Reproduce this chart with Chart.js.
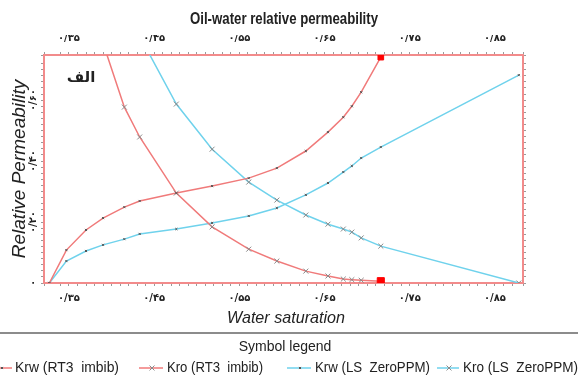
<!DOCTYPE html>
<html>
<head>
<meta charset="utf-8">
<script src="https://cdn.jsdelivr.net/npm/chart.js@4.4.1/dist/chart.umd.min.js"></script>
<style>
  html, body { margin: 0; padding: 0; background: #fff; }
  canvas { display: block; }
</style>
</head>
<body>
<canvas id="kr" width="578" height="381"></canvas>
<script>
// water saturation steps (RT3 stops at 0.716, LS has one more end point)
const waterSat = [0.327, 0.347, 0.370, 0.390, 0.415, 0.433, 0.476, 0.518, 0.561, 0.594, 0.628, 0.654, 0.672, 0.682, 0.693, 0.716, 0.878];

// relative permeabilities
const krwRT3 = [0, 0.108, 0.174, 0.213, 0.249, 0.269, 0.295, 0.318, 0.344, 0.377, 0.433, 0.495, 0.544, 0.580, 0.626, 0.741];
const kroRT3 = [1.0, 0.95, 0.87, 0.787, 0.577, 0.479, 0.295, 0.184, 0.111, 0.072, 0.039, 0.023, 0.013, 0.011, 0.009, 0.006];
const krwLS = [0, 0.072, 0.105, 0.125, 0.144, 0.161, 0.177, 0.197, 0.220, 0.246, 0.289, 0.328, 0.364, 0.384, 0.410, 0.446, 0.682];
const kroLS = [1.0, 0.99, 0.96, 0.92, 0.87, 0.810, 0.587, 0.439, 0.331, 0.272, 0.223, 0.193, 0.177, 0.167, 0.148, 0.121, 0.0];

const seriesNames = ['Krw (RT3  imbib)', 'Kro (RT3  imbib)', 'Krw (LS  ZeroPPM)', 'Kro (LS  ZeroPPM)'];

// tick labels (Persian digits)
const xTickValues = [0.35, 0.45, 0.55, 0.65, 0.75, 0.85];
const xTickLabels = ['۰/۳۵', '۰/۴۵', '۰/۵۵', '۰/۶۵', '۰/۷۵', '۰/۸۵'];
const yTickValues = [0, 0.2, 0.4, 0.6];
const yTickLabels = ['۰', '۰/۲۰', '۰/۴۰', '۰/۶۰'];

const RED = '#f07a7a';
const CYAN = '#6fd2ec';
const MARK = '#8a8a8a';

function pts(vals) {
    return vals.map((v, i) => ({ x: waterSat[i], y: v }));
}

function lineSet(label, vals, color, isKro, endSquare) {
    const last = vals.length - 1;
    return {
        label: label,
        data: pts(vals),
        borderColor: color,
        borderWidth: 1.5,
        tension: 0,
        pointStyle: vals.map((v, i) => (endSquare && i === last) ? 'rect' : 'crossRot'),
        pointRadius: vals.map((v, i) => (endSquare && i === last) ? (isKro ? 5 : 4) : (isKro ? 3.5 : 1.5)),
        pointBorderColor: vals.map((v, i) => (endSquare && i === last) ? '#ff0000' : (isKro ? MARK : '#555')),
        pointBackgroundColor: vals.map((v, i) => (endSquare && i === last) ? '#ff0000' : 'transparent'),
        pointBorderWidth: 1,
        _isKro: isKro
    };
}

function labelFor(values, labels) {
    return function(v) {
        const i = values.findIndex(t => Math.abs(t - v) < 1e-6);
        return i < 0 ? '' : labels[i];
    };
}

const frame = { display: true, color: '#f28b8b', width: 2 };
const tickMarks = { drawOnChartArea: false, drawTicks: true, tickLength: 3, tickColor: '#9a9a9a', color: '#9a9a9a' };
const tickFont = { family: 'DejaVu Sans', size: 10, weight: 'bold' };

const X_MIN = 0.3207, X_MAX = 0.8829;
const Y_MIN = 0, Y_MAX = 0.748;

// titles, "alef" label and the symbol legend
const decor = {
    id: 'decor',
    afterDraw(chart) {
        const ctx = chart.ctx;
        ctx.save();
        ctx.fillStyle = '#222';
        ctx.textAlign = 'center';
        ctx.textBaseline = 'middle';

        ctx.font = 'bold 16px "Liberation Sans Narrow", "Liberation Sans", sans-serif';
        ctx.fillText('Oil-water relative permeability', 284, 20, 188);

        ctx.font = 'italic 17px "Liberation Sans", sans-serif';
        ctx.fillText('Water saturation', 286, 318, 118);

        ctx.save();
        ctx.translate(20, 169);
        ctx.rotate(-Math.PI / 2);
        ctx.font = 'italic 19px "Liberation Sans", sans-serif';
        ctx.fillText('Relative Permeability', 0, 0, 190);
        ctx.restore();

        ctx.font = 'bold 15px "DejaVu Sans", sans-serif';
        ctx.fillText('الف', 81, 78);

        // legend
        ctx.strokeStyle = '#8c8c8c';
        ctx.lineWidth = 2;
        ctx.beginPath();
        ctx.moveTo(0, 333);
        ctx.lineTo(578, 333);
        ctx.stroke();

        ctx.font = '14px "Liberation Sans", sans-serif';
        ctx.fillText('Symbol legend', 285, 347);

        const slots = [[-10, 12, 15, 104], [139, 163, 167, 96], [287, 311, 315, 115], [437, 459, 463, 115]];
        const ly = 368;
        chart.data.datasets.forEach((ds, i) => {
            const s = slots[i];
            ctx.strokeStyle = ds.borderColor;
            ctx.lineWidth = 1.5;
            ctx.beginPath();
            ctx.moveTo(s[0], ly);
            ctx.lineTo(s[1], ly);
            ctx.stroke();
            ctx.strokeStyle = ds._isKro ? MARK : '#555';
            ctx.lineWidth = 1;
            Chart.helpers.drawPoint(ctx, { pointStyle: 'crossRot', rotation: 0, radius: ds._isKro ? 3.5 : 1.5, borderWidth: 1 }, (s[0] + s[1]) / 2 + 1, ly);
            ctx.fillStyle = '#222';
            ctx.textAlign = 'left';
            ctx.fillText(ds.label, s[2], ly, s[3]);
        });
        ctx.restore();
    }
};

new Chart(document.getElementById('kr'), {
    type: 'line',
    data: {
        datasets: [
            lineSet(seriesNames[0], krwRT3, RED, false, true),
            lineSet(seriesNames[1], kroRT3, RED, true, true),
            lineSet(seriesNames[2], krwLS, CYAN, false, false),
            lineSet(seriesNames[3], kroLS, CYAN, true, false)
        ]
    },
    options: {
        responsive: false,
        animation: false,
        layout: { padding: { left: 24, right: 49, top: 35, bottom: 68 } },
        plugins: { legend: { display: false }, tooltip: { enabled: false } },
        scales: {
            x: {
                type: 'linear', position: 'bottom', min: X_MIN, max: X_MAX,
                border: frame, grid: tickMarks,
                ticks: { stepSize: 0.01, autoSkip: false, maxRotation: 0, padding: 6, color: '#222', font: tickFont,
                         callback: labelFor(xTickValues, xTickLabels) },
                afterFit: s => { s.height = 30; }
            },
            xTop: {
                type: 'linear', position: 'top', min: X_MIN, max: X_MAX,
                border: frame, grid: tickMarks,
                ticks: { stepSize: 0.01, autoSkip: false, maxRotation: 0, padding: 8, color: '#222', font: tickFont,
                         callback: labelFor(xTickValues, xTickLabels) },
                afterFit: s => { s.height = 20; }
            },
            y: {
                type: 'linear', position: 'left', min: Y_MIN, max: Y_MAX,
                border: frame, grid: tickMarks,
                ticks: { stepSize: 0.02, autoSkip: false, minRotation: 90, maxRotation: 90, crossAlign: 'center',
                         padding: -3, color: '#222', font: tickFont,
                         callback: labelFor(yTickValues, yTickLabels) },
                afterFit: s => { s.width = 20; }
            },
            yRight: {
                type: 'linear', position: 'right', min: Y_MIN, max: Y_MAX,
                border: frame, grid: tickMarks,
                ticks: { stepSize: 0.02, display: false },
                afterFit: s => { s.width = 6; }
            }
        }
    },
    plugins: [decor]
});
</script>
</body>
</html>
